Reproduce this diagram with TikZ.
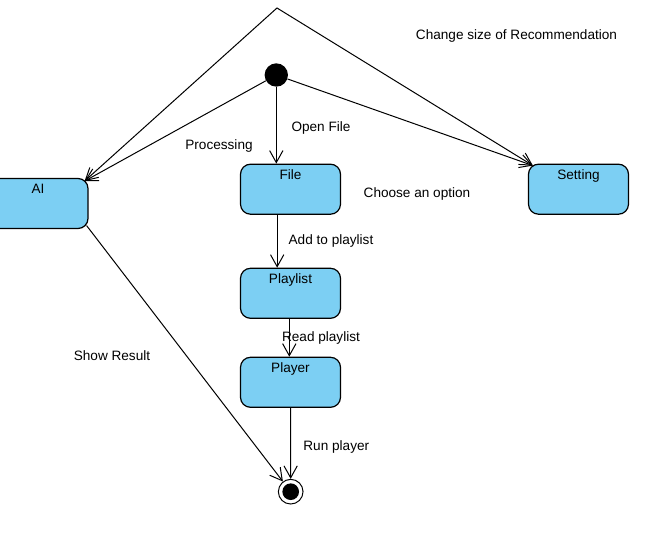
\documentclass[tikz,border=0pt]{standalone}
\usepackage{fontspec}
\setmainfont{Liberation Sans}
\usetikzlibrary{arrows.meta}
\definecolor{boxblue}{HTML}{7CCFF3}
\tikzset{
  statebox/.style={draw=black, line width=0.9pt, fill=boxblue, rounded corners=7.5pt,
    minimum width=75pt, minimum height=37.5pt, inner sep=0pt},
  lbl/.style={font=\fontsize{10.2pt}{12pt}\selectfont, inner sep=0pt, anchor=base},
  conn/.style={draw=black, line width=0.75pt, -{Straight Barb[length=9pt,width=10pt,line width=0.75pt]}},
  initdot/.style={circle, fill=black, minimum size=17.5pt, inner sep=0pt},
  finring/.style={circle, draw=black, line width=0.75pt, fill=white, minimum size=18.5pt, inner sep=0pt},
  findot/.style={circle, fill=black, minimum size=12.5pt, inner sep=0pt}
}
\begin{document}
\begin{tikzpicture}[x=0.75pt,y=-0.75pt]
\useasboundingbox (0,0) rectangle (662,559);
\clip (0,0) rectangle (662,559);
\fill[white] (0,0) rectangle (662,559);

% states
\node[statebox] (ai) at (38,203.5) {};
\node[statebox] (file) at (290.5,189.2) {};
\node[statebox] (setting) at (578.5,189.2) {};
\node[statebox] (playlist) at (290.5,293.3) {};
\node[statebox] (player) at (290.5,382.3) {};

\node[lbl] (aiL) at ([yshift=-12pt]ai.north) {AI};
\node[lbl] (fileL) at ([yshift=-12pt]file.north) {File};
\node[lbl] (settingL) at ([yshift=-12pt]setting.north) {Setting};
\node[lbl] (playlistL) at ([yshift=-12pt]playlist.north) {Playlist};
\node[lbl] (playerL) at ([yshift=-11.6pt]player.north) {Player};

% pseudo states
\node[initdot] (init) at (276.3,75) {};
\node[finring] (fin) at (290.7,491.7) {};
\node[findot] (finc) at (290.7,491.7) {};

\coordinate (apex) at (277,8);
\coordinate (aiTR) at ([shift={(-4,3.2)}]ai.north east);
\coordinate (setTL) at ([shift={(5,2)}]setting.north west);
\coordinate (aiBR) at ([shift={(-2,-3.5)}]ai.south east);

% connectors
\draw[conn] (init) -- (init |- file.north);
\draw[conn] (init) -- (aiTR);
\draw[conn] (init) -- (setTL);
\draw[draw=black, line width=0.75pt,
  {Straight Barb[length=9pt,width=10pt,line width=0.75pt]}-{Straight Barb[length=9pt,width=10pt,line width=0.75pt]}]
  (aiTR) -- (apex) -- (setTL);
\draw[conn] ([xshift=-10pt]file.south) -- ([xshift=-10pt]playlist.north);
\draw[conn] ([xshift=-0.9pt]playlist.south) -- ([xshift=-0.9pt]player.north);
\draw[conn] (player.south) -- (fin);
\draw[conn] (aiBR) -- (fin);

% labels
\node[lbl] (l1) at (516.5,39.3) {Change size of Recommendation};
\node[lbl] (l2) at (321,131.3) {Open File};
\node[lbl] (l3) at (219,149.5) {Processing};
\node[lbl] (l4) at (417,197.3) {Choose an option};
\node[lbl] (l5) at (331,244.5) {Add to playlist};
\node[lbl] (l6) at (321,341.3) {Read playlist};
\node[lbl] (l7) at (112,360.3) {Show Result};
\node[lbl] (l8) at (336.3,450.5) {Run player};
\end{tikzpicture}
\end{document}
